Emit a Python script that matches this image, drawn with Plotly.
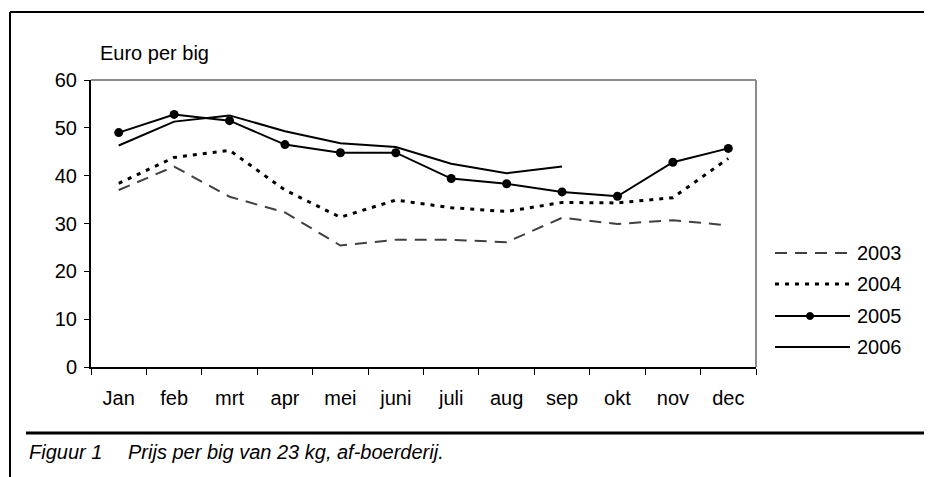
import plotly.graph_objects as go

months = ["Jan", "feb", "mrt", "apr", "mei", "juni", "juli", "aug", "sep", "okt", "nov", "dec"]
p2003 = [37.0, 41.9, 35.6, 32.3, 25.4, 26.6, 26.6, 26.1, 31.2, 29.9, 30.7, 29.6]
p2004 = [38.4, 43.8, 45.3, 37.0, 31.3, 34.9, 33.3, 32.5, 34.4, 34.3, 35.4, 43.6]
p2005 = [49.0, 52.8, 51.5, 46.5, 44.8, 44.8, 39.4, 38.3, 36.6, 35.7, 42.8, 45.7]
p2006 = [46.3, 51.3, 52.6, 49.3, 46.8, 46.0, 42.5, 40.5, 41.9, None, None, None]
years = ["2003", "2004", "2005", "2006"]
y_ticks = [0, 10, 20, 30, 40, 50, 60]

FONT = "Liberation Sans, Arial, sans-serif"
OFF = 8  # page body offset
W, H = 932 - OFF, 477 - OFF
# plot area in screenshot pixels: x 91..756, y 80..367
L = 91 - OFF
R = W - (756 - OFF)
T = 80 - OFF
B = H - (367 - OFF)

styles = {
    "2003": dict(color="#404040", width=2, dash="12px,8px"),
    "2004": dict(color="#000000", width=3, dash="4px,6px"),
    "2005": dict(color="#000000", width=2),
    "2006": dict(color="#000000", width=2),
}
series = {"2003": p2003, "2004": p2004, "2005": p2005, "2006": p2006}

fig = go.Figure()
for yr in years:
    mode = "lines+markers" if yr == "2005" else "lines"
    fig.add_trace(go.Scatter(
        x=months, y=series[yr], name=yr, mode=mode,
        line=styles[yr], marker=dict(size=9, color="#000000"),
        connectgaps=False, showlegend=False,
    ))

def px_x(p):
    return (p - OFF - L) / (W - L - R)

def px_y(p):
    return (H - B - (p - OFF)) / (H - T - B)

shapes = []
shapes.append(dict(type="line", xref="paper", yref="paper", x0=0, x1=1, y0=1, y1=1,
                   line=dict(color="#8c8c8c", width=2)))
shapes.append(dict(type="line", xref="paper", yref="paper", x0=1, x1=1, y0=0, y1=1,
                   line=dict(color="#8c8c8c", width=2)))
shapes.append(dict(type="line", xref="paper", yref="paper", x0=px_x(10), x1=px_x(935),
                   y0=px_y(12), y1=px_y(12), line=dict(color="#000000", width=2)))
shapes.append(dict(type="line", xref="paper", yref="paper", x0=px_x(10), x1=px_x(10),
                   y0=px_y(12), y1=px_y(480), line=dict(color="#000000", width=2)))
shapes.append(dict(type="line", xref="paper", yref="paper", x0=px_x(26), x1=px_x(927),
                   y0=px_y(433), y1=px_y(433), line=dict(color="#000000", width=3)))

annotations = []
legend_y = [253, 284, 316, 347]
for yr, ly in zip(years, legend_y):
    st = styles[yr]
    shapes.append(dict(type="line", xref="paper", yref="paper", x0=px_x(775), x1=px_x(850),
                       y0=px_y(ly), y1=px_y(ly),
                       line=dict(color=st["color"], width=st["width"], dash=st.get("dash", "solid"))))
    annotations.append(dict(text=yr, xref="paper", yref="paper", x=px_x(855), y=px_y(ly),
                            xanchor="left", yanchor="middle", showarrow=False,
                            font=dict(family=FONT, size=20, color="#000000")))
    if yr == "2005":
        shapes.append(dict(type="circle", xref="paper", yref="paper",
                           x0=px_x(806.5), x1=px_x(813.5), y0=px_y(ly + 3.5), y1=px_y(ly - 3.5),
                           fillcolor="#000000", line=dict(color="#000000", width=1)))

annotations.append(dict(text="Euro per big", xref="paper", yref="paper", x=px_x(98), y=px_y(53),
                        xanchor="left", yanchor="middle", showarrow=False,
                        font=dict(family=FONT, size=20, color="#000000")))
annotations.append(dict(text="<i>Figuur 1</i>", xref="paper", yref="paper", x=px_x(27), y=px_y(452),
                        xanchor="left", yanchor="middle", showarrow=False,
                        font=dict(family=FONT, size=20, color="#000000")))
annotations.append(dict(text="<i>Prijs per big van 23 kg, af-boerderij.</i>", xref="paper", yref="paper",
                        x=px_x(126), y=px_y(452), xanchor="left", yanchor="middle", showarrow=False,
                        font=dict(family=FONT, size=20, color="#000000")))

fig.update_layout(
    width=W, height=H,
    margin=dict(l=L, r=R, t=T, b=B, pad=0),
    paper_bgcolor="white", plot_bgcolor="white",
    font=dict(family=FONT, size=20, color="#000000"),
    shapes=shapes, annotations=annotations,
    showlegend=False,
)
fig.update_xaxes(
    type="category", range=[-0.5, 11.5], showgrid=False, zeroline=False,
    showline=True, linecolor="#000000", linewidth=2,
    ticks="outside", tickson="boundaries", ticklen=6, tickwidth=1, tickcolor="#000000",
    tickfont=dict(family=FONT, size=20, color="#000000"),
    ticklabelstandoff=12,
)
fig.update_yaxes(
    range=[0, 60], tickvals=y_ticks, showgrid=False, zeroline=False,
    showline=True, linecolor="#000000", linewidth=2,
    ticks="outside", ticklen=5, tickwidth=1, tickcolor="#000000",
    tickfont=dict(family=FONT, size=20, color="#000000"),
    ticklabelstandoff=3,
)
fig.write_html("out.html")
